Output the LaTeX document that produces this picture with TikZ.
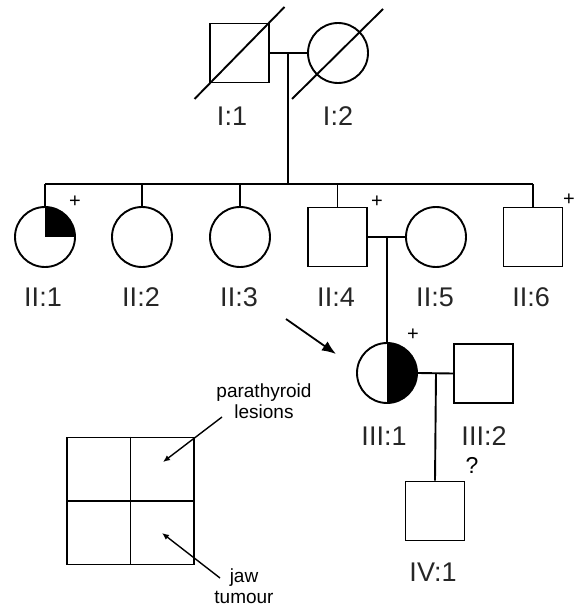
\documentclass[tikz,border=0pt]{standalone}
\usepackage{fontspec}
\setmainfont{Liberation Sans}
\usetikzlibrary{arrows.meta,calc}

\tikzset{
  line/.style={line width=1.9pt, black},
  male/.style={draw, line width=1.9pt, rectangle, minimum size=59pt, inner sep=0pt},
  female/.style={draw, line width=1.9pt, circle, minimum size=60pt, inner sep=0pt},
  quarterfill/.style={path picture={\fill (path picture bounding box.center) rectangle (path picture bounding box.north east);}},
  halffill/.style={path picture={\fill (path picture bounding box.north) rectangle (path picture bounding box.south east);}},
  idlabel/.style={font=\fontsize{27}{30}\selectfont, text=black!85, inner sep=0pt},
  signtext/.style={font=\fontsize{20}{21}\selectfont, inner sep=0pt},
  legendtext/.style={font=\fontsize{19}{21}\selectfont, align=center, inner sep=0pt},
  pointer/.style={line width=1.4pt, -{Latex[length=7pt,width=6pt]}},
}

\begin{document}
\begin{tikzpicture}[x=1pt, y=-1pt]
  \useasboundingbox (0,0) rectangle (576,609);

  % Generation I
  \node[male]   (I1) at (239.5,53) {};
  \node[female] (I2) at (338,53) {};
  \draw[line] ($(I1.center)+(-45,46)$) -- ($(I1.center)+(45,-46)$);
  \draw[line] ($(I2.center)+(-46,46)$) -- ($(I2.center)+(45,-44)$);
  \coordinate (m1) at (288,53);
  \coordinate (s1) at (288,184);
  \draw[line] (I1.east) -- (I2.west);
  \draw[line] (m1) -- (s1);
  \node[idlabel] (lI1) at (232,116) {I:1};
  \node[idlabel] (lI2) at (338,116) {I:2};

  % Generation II
  \node[female, quarterfill] (II1) at (45,237) {};
  \node[female] (II2) at (142,237) {};
  \node[female] (II3) at (240,237) {};
  \node[male]   (II4) at (337.5,237) {};
  \node[female] (II5) at (436,237) {};
  \node[male]   (II6) at (533,237) {};
  \coordinate (sL) at (45,184);
  \coordinate (sR) at (533,184);
  \draw[line] (sL) -- (sR);
  \foreach \n in {II1,II2,II3,II4,II6}
    \draw[line] (\n.north) -- (\n.north |- sL);
  \draw[line] (II4.east) -- (II5.west);
  \coordinate (m2) at (387,237);

  \node[idlabel] (lII1) at (43,297) {II:1};
  \node[idlabel] (lII2) at (141,297) {II:2};
  \node[idlabel] (lII3) at (239,297) {II:3};
  \node[idlabel] (lII4) at (336,297) {II:4};
  \node[idlabel] (lII5) at (435,297) {II:5};
  \node[idlabel] (lII6) at (531,297) {II:6};

  \node[signtext] (pII1) at (75,202) {+};
  \node[signtext] (pII4) at (377,202) {+};
  \node[signtext] (pII6) at (569,200) {+};

  % Generation III
  \node[female, halffill] (III1) at (387,373) {};
  \node[male]   (III2) at (483.5,373.5) {};
  \draw[line] (m2) -- (III1.north);
  \draw[line] (III1.east) -- (III2.west);
  \coordinate (m3) at (436,373);
  \node[signtext] (pIII1) at (413,335) {+};
  \node[idlabel] (lIII1) at (384,436) {III:1};
  \node[idlabel] (lIII2) at (484,436) {III:2};

  % Generation IV
  \node[male] (IV1) at (435,511) {};
  \draw[line] (m3) -- (IV1.north);
  \node[signtext, font=\fontsize{23}{24}\selectfont] (qIV1) at (472,465) {?};
  \node[idlabel] (lIV1) at (433,572) {IV:1};

  % Proband arrow
  \coordinate (pa) at (286,319);
  \coordinate (pb) at (336,354);
  \draw[line width=1.8pt, -{Latex[length=14pt,width=11pt]}] (pa) -- (pb);

  % Key
  \node[draw, line width=1.9pt, rectangle, minimum size=127pt, inner sep=0pt] (key) at (130.5,501) {};
  \draw[line] (key.north) -- (key.south);
  \draw[line] (key.west) -- (key.east);
  \node[legendtext] (tpara) at (264,401) {parathyroid\\lesions};
  \node[legendtext] (tjaw) at (244,586) {jaw\\tumour};
  \coordinate (pa1) at (222,417);
  \coordinate (pa2) at (163,462);
  \coordinate (ja1) at (220,578);
  \coordinate (ja2) at (162,533);
  \draw[pointer] (pa1) -- (pa2);
  \draw[pointer] (ja1) -- (ja2);
\end{tikzpicture}
\end{document}
